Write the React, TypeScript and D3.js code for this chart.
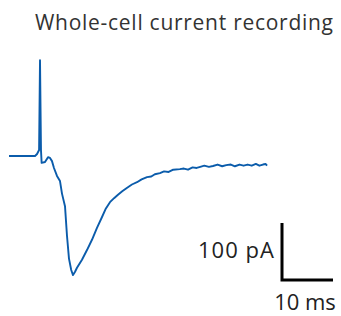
import React from "react";
import * as d3 from "d3";

// time (ms) and current (pA)
const timeMs = [0, 5.1, 5.5, 5.9, 6.08, 6.27, 6.4, 7.06, 7.65, 8.04, 8.43, 8.82, 9.41, 10.0, 10.39, 10.98, 11.37, 11.76, 12.2, 12.55, 12.95, 13.33, 14.31, 15.29, 16.27, 17.25, 18.24, 19.0, 19.8, 20.6, 21.37, 22.2, 23.1, 24.1, 25.1, 26.0, 27.06, 27.9, 28.6, 29.6, 30.4, 31.3, 32.2, 33.5, 34.3, 35.1, 36.0, 36.8, 37.5, 38.3, 39.2, 40.0, 40.9, 41.8, 42.6, 43.5, 44.3, 45.2, 46.0, 46.8, 47.6, 48.4, 49.1, 49.8, 50.3, 50.6];
const currentPa = [0, 0, 3.5, 10.5, 168, 10.5, -12, -10.5, -2, -3.5, -9, -21, -35, -44, -66, -88, -140, -180, -200, -209, -203, -196, -182, -165, -147, -126, -107, -92, -81, -74, -68, -62, -56, -50, -46, -41, -37, -36, -32, -30, -27, -28, -24, -23, -22, -24, -20, -21, -19, -17, -19, -17.5, -15, -18, -16, -15, -18, -15, -17, -15, -17, -14, -17, -15, -14, -17];

const title = "Whole-cell current recording";
const scaleBarCurrentLabel = "100 pA";
const scaleBarTimeLabel = "10 ms";
const scaleBarCurrent = 100;
const scaleBarTime = 10;

export default function App() {
  const W = 341, H = 316;
  const x = d3.scaleLinear().domain([0, 10]).range([9, 60]);
  const y = d3.scaleLinear().domain([0, -100]).range([156, 213]);
  const pts = timeMs.map((t, i) => [t, currentPa[i]] as [number, number]);
  const line = d3.line<[number, number]>().x(d => x(d[0])).y(d => y(d[1]));

  const barX0 = 282, barY = 280;
  const barLen = x(scaleBarTime) - x(0);
  const barH = y(-scaleBarCurrent) - y(0);
  const font = "'Open Sans', sans-serif";

  return (
    <svg width={W} height={H} style={{ position: "absolute", left: 0, top: 0 }}>
      <rect width={W} height={H} fill="#fff" />
      <text x={35} y={30} fontFamily={font} fontSize={21} fill="#333" textLength={298} lengthAdjust="spacing">{title}</text>
      <path d={line(pts) || ""} fill="none" stroke="#0b5cab" strokeWidth={1.9} strokeLinejoin="round" />
      <path d={`M${barX0},${barY - barH} V${barY} H${barX0 + barLen}`} fill="none" stroke="#000" strokeWidth={3} />
      <text x={198} y={258} fontFamily={font} fontSize={22} fill="#222" textLength={76} lengthAdjust="spacing">{scaleBarCurrentLabel}</text>
      <text x={305} y={310} textAnchor="middle" fontFamily={font} fontSize={22} fill="#222">{scaleBarTimeLabel}</text>
    </svg>
  );
}
